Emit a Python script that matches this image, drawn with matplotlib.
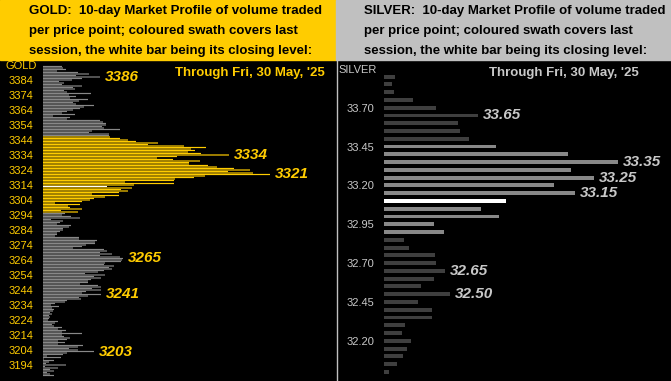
"""
Gold / Silver 10-day market profile panels, side by side.
Saves out.png (671x381).
"""

import numpy as np
import matplotlib
matplotlib.use('Agg')
import matplotlib.pyplot as plt
from matplotlib.patches import Rectangle
from matplotlib.lines import Line2D

W, H = 671, 381
DPI  = 100

plt.rcParams['font.family'] = ['Liberation Sans', 'DejaVu Sans']
NARROW = ['Liberation Sans Narrow', 'Liberation Sans', 'DejaVu Sans']

GOLD_YEL   = '#FFCC00'
GOLD_GRAY  = '#888888'
SILV_BAND  = '#C0C0C0'
SILV_DARK  = '#3F3F3F'
SILV_LIGHT = '#888888'
SILV_TEXT  = '#C8C8C8'

# ── Gold data (volume per $1 price point, top price first) ────────────────────
GOLD_TOP = 3393
gold_upper = [19, 20, 23, 14, 35, 46, 33, 57, 39, 29,      # 3393 .. 3384
              16, 21, 19, 39, 30, 32, 21, 24, 48, 26,
              33, 27, 45, 36, 30, 33, 51, 41, 37, 30,
              24, 19, 32, 10, 27, 24, 57, 60, 63, 63,
              59, 61, 77, 49, 46, 66, 66]                  # .. 3347
gold_session = [67, 77, 85, 93, 115, 105, 141, 163, 148, 152,   # 3346 ..
                145, 158, 186, 134, 114, 130, 157, 146, 146, 165,
                174, 191, 207, 185, 210, 227, 162, 151, 132, 131,
                82, 131, 91, 64, 89, 78, 85, 76, 49, 76,
                62, 51, 47, 39, 12, 37, 25, 27, 39, 18,
                35]                                              # .. 3296
gold_lower = [22, 19, 28, 37, 8, 20, 17, 14, 28, 26,       # 3295 ..
              20, 20, 17, 14, 14, 12, 36, 36, 54, 52,
              52, 43, 39, 30, 61, 64, 57, 69, 57, 77,
              80, 79, 78, 62, 61, 71, 66, 69, 61, 55,
              42, 62, 51, 58, 48, 45, 45, 37, 55, 58,
              49, 58, 43, 39, 58, 45, 36, 38, 24, 22,
              12, 8, 16, 9, 11, 10, 7, 9, 6, 7,
              6, 5, 15, 12, 9, 11, 19, 15, 23, 19,
              39, 19, 21, 27, 24, 15, 22, 15, 40, 35,
              26, 35, 51, 24, 20, 4, 18, 1, 11, 6,
              3, 23, 2, 15, 7, 11, 4, 7, 11]               # .. 3187
GOLD_CLOSE    = 3313
gold_ticks    = list(range(3384, 3190, -10))
gold_callouts = [3386, 3334, 3321, 3265, 3241, 3203]

# ── Silver data (volume per 5c price point) ───────────────────────────────────
silver_prices = [33.90, 33.85, 33.80, 33.75, 33.70, 33.65, 33.60, 33.55, 33.50,
                 33.45, 33.40, 33.35, 33.30, 33.25, 33.20, 33.15, 33.10, 33.05,
                 33.00, 32.95, 32.90, 32.85, 32.80, 32.75, 32.70, 32.65, 32.60,
                 32.55, 32.50, 32.45, 32.40, 32.35, 32.30, 32.25, 32.20, 32.15,
                 32.10, 32.05, 32.00]
silver_volume = [11, 8, 10, 29, 52, 94, 74, 76, 85,
                 112, 184, 234, 187, 210, 170, 191, 122, 97,
                 115, 50, 60, 20, 25, 51, 52, 61, 50,
                 37, 66, 34, 48, 48, 21, 18, 27, 23,
                 19, 13, 5]
SILVER_SESSION  = (32.90, 33.45)
SILVER_CLOSE    = 33.10
silver_ticks    = [33.70, 33.45, 33.20, 32.95, 32.70, 32.45, 32.20]
silver_callouts = [33.65, 33.35, 33.25, 33.15, 32.65, 32.50]

TITLE_BODY = ["10-day Market Profile of volume traded",
              "per price point; coloured swath covers last",
              "session, the white bar being its closing level:"]


def fx(px):
    return px / W


def fy(py):
    # pixel row from the top -> figure fraction
    return 1 - py / H


def title_band(x0, x1, color, metal, text_x):
    band = Rectangle((fx(x0), fy(60)), fx(x1 - x0), 60 / H,
                     transform=fig.transFigure, color=color, zorder=0)
    fig.add_artist(band)
    lines = [f"{metal}:  {TITLE_BODY[0]}"] + TITLE_BODY[1:]
    for i, line in enumerate(lines):
        fig.text(fx(text_x), fy(11 + 20 * i), line, fontsize=9.5,
                 fontweight='bold', color='black', va='center', ha='left')


def style_axis(ax, tick_color):
    ax.set_facecolor('black')
    for s in ax.spines.values():
        s.set_visible(False)
    ax.set_xticks([])
    ax.tick_params(axis='y', length=0, pad=7.2, labelsize=8,
                   labelcolor=tick_color)


fig = plt.figure(figsize=(W / DPI, H / DPI), dpi=DPI)
fig.patch.set_facecolor('black')

# ── Gold panel ────────────────────────────────────────────────────────────────
title_band(0, 336, GOLD_YEL, 'GOLD', 29)

gold_vol    = gold_upper + gold_session + gold_lower
gold_prices = GOLD_TOP - np.arange(len(gold_vol))
sess_hi     = GOLD_TOP - len(gold_upper)
sess_lo     = sess_hi - len(gold_session) + 1
gold_cols = []
for p in gold_prices:
    if p == GOLD_CLOSE:
        gold_cols.append('white')
    elif sess_lo <= p <= sess_hi:
        gold_cols.append(GOLD_YEL)
    else:
        gold_cols.append(GOLD_GRAY)

axg = fig.add_axes([fx(43), 1 / H, fx(335 - 43), 318 / H])
# 1.5 px per price point, so let the bars anti-alias instead of snapping
axg.barh(gold_prices, gold_vol, height=0.8, color=gold_cols, linewidth=0,
         snap=False)
axg.set_xlim(0, 292)
axg.set_ylim(3184, 3396)
style_axis(axg, GOLD_YEL)
axg.set_yticks(gold_ticks)
axg.set_yticklabels([str(t) for t in gold_ticks])

for p in gold_callouts:
    v = gold_vol[list(gold_prices).index(p)]
    axg.annotate(str(p), xy=(v, p), xytext=(3.6, 0), textcoords='offset points',
                 va='center', ha='left', fontsize=11, fontweight='bold',
                 fontstyle='italic', color=GOLD_YEL, family=NARROW)

fig.text(fx(5), fy(66), 'GOLD', fontsize=8, color=GOLD_YEL, va='center')
fig.text(fx(325), fy(73), "Through Fri, 30 May, '25", fontsize=9.5,
         fontweight='bold', color=GOLD_YEL, va='center', ha='right', family=NARROW)

# ── Silver panel ──────────────────────────────────────────────────────────────
title_band(336, W, SILV_BAND, 'SILVER', 364)

silver_cols = []
for p in silver_prices:
    if abs(p - SILVER_CLOSE) < 1e-6:
        silver_cols.append('white')
    elif SILVER_SESSION[0] - 1e-6 <= p <= SILVER_SESSION[1] + 1e-6:
        silver_cols.append(SILV_LIGHT)
    else:
        silver_cols.append(SILV_DARK)

axs = fig.add_axes([fx(384), 1 / H, fx(W - 384), 318 / H])
axs.barh(silver_prices, silver_volume, height=0.025, color=silver_cols, linewidth=0)
axs.set_xlim(0, 287)
axs.set_ylim(31.948, 33.994)
style_axis(axs, SILV_TEXT)
axs.set_yticks(silver_ticks)
axs.set_yticklabels([f"{t:.2f}" for t in silver_ticks])

for p in silver_callouts:
    v = silver_volume[silver_prices.index(p)]
    axs.annotate(f"{p:.2f}", xy=(v, p), xytext=(3.6, 0), textcoords='offset points',
                 va='center', ha='left', fontsize=11, fontweight='bold',
                 fontstyle='italic', color=SILV_TEXT, family=NARROW)

fig.text(fx(338), fy(70), 'SILVER', fontsize=8, color=SILV_TEXT, va='center')
fig.text(fx(639), fy(73), "Through Fri, 30 May, '25", fontsize=9.5,
         fontweight='bold', color=SILV_TEXT, va='center', ha='right', family=NARROW)

# thin light border on the left of the silver plot area
fig.add_artist(Line2D([fx(336.5), fx(336.5)], [0, fy(60)],
                      transform=fig.transFigure, color=SILV_BAND, linewidth=1))

fig.savefig('out.png', dpi=DPI, facecolor='black')
